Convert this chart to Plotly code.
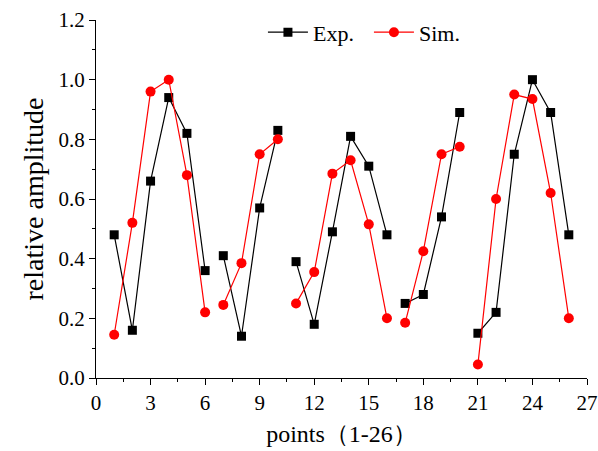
import plotly.graph_objects as go

# Measured and simulated relative amplitude at points 1-26
points = list(range(1, 27))
exp_vals = [0.48, 0.16, 0.66, 0.94, 0.82, 0.36,
            0.41, 0.14, 0.57, 0.83,
            0.39, 0.18, 0.49, 0.81, 0.71, 0.48,
            0.25, 0.28, 0.54, 0.89,
            0.15, 0.22, 0.75, 1.00, 0.89, 0.48]
sim_vals = [0.145, 0.52, 0.96, 1.00, 0.68, 0.22,
            0.245, 0.385, 0.75, 0.80,
            0.25, 0.355, 0.685, 0.73, 0.515, 0.20,
            0.185, 0.425, 0.75, 0.775,
            0.045, 0.60, 0.95, 0.935, 0.62, 0.20]
# last point of each group; lines are broken after these
group_ends = [6, 10, 16, 20]

x_ticks = [0, 3, 6, 9, 12, 15, 18, 21, 24, 27]
y_ticks = [0.0, 0.2, 0.4, 0.6, 0.8, 1.0, 1.2]


def with_gaps(xs, ys):
    gx, gy = [], []
    for x, y in zip(xs, ys):
        gx.append(x)
        gy.append(y)
        if x in group_ends:
            gx.append(None)
            gy.append(None)
    return gx, gy


ex, ey = with_gaps(points, exp_vals)
sx, sy = with_gaps(points, sim_vals)

font_family = "Liberation Serif"

fig = go.Figure()
fig.add_trace(go.Scatter(
    x=ex, y=ey, name="Exp.", mode="lines+markers",
    line=dict(color="black", width=1.2),
    marker=dict(symbol="square", size=9, color="black"),
    connectgaps=False,
))
fig.add_trace(go.Scatter(
    x=sx, y=sy, name="Sim.", mode="lines+markers",
    line=dict(color="#ff0000", width=1.2),
    marker=dict(symbol="circle", size=10, color="#ff0000"),
    connectgaps=False,
))

axis_common = dict(
    showline=True, linecolor="black", linewidth=1.3,
    ticks="outside", ticklen=6, tickwidth=1.2, tickcolor="black",
    showgrid=False, zeroline=False, mirror=False, automargin=False,
    tickfont=dict(family=font_family, size=21, color="black"),
)

fig.update_xaxes(
    range=[0, 27], tickvals=x_ticks, ticktext=[str(v) for v in x_ticks],
    minor=dict(dtick=1.5, tick0=0, ticks="outside", ticklen=3, tickcolor="black"),
    title=dict(text="points（1-26）", font=dict(family=font_family, size=24, color="black"), standoff=10),
    **axis_common,
)
fig.update_yaxes(
    range=[0, 1.2], tickvals=y_ticks, ticktext=[f"{v:.1f}" for v in y_ticks],
    minor=dict(dtick=0.1, tick0=0, ticks="outside", ticklen=3, tickcolor="black"),
    title=dict(text="relative amplitude", font=dict(family=font_family, size=28, color="black"), standoff=6),
    **axis_common,
)

fig.update_layout(
    width=598, height=451,
    margin=dict(l=96, r=11, t=18, b=73),
    paper_bgcolor="white", plot_bgcolor="white",
    showlegend=True,
    legend=dict(
        orientation="h", x=0.34, y=1.024, xanchor="left", yanchor="top",
        bgcolor="rgba(0,0,0,0)",
        font=dict(family=font_family, size=22, color="black"),
        itemwidth=40, entrywidth=51,
    ),
)

fig.write_html("out.html")
